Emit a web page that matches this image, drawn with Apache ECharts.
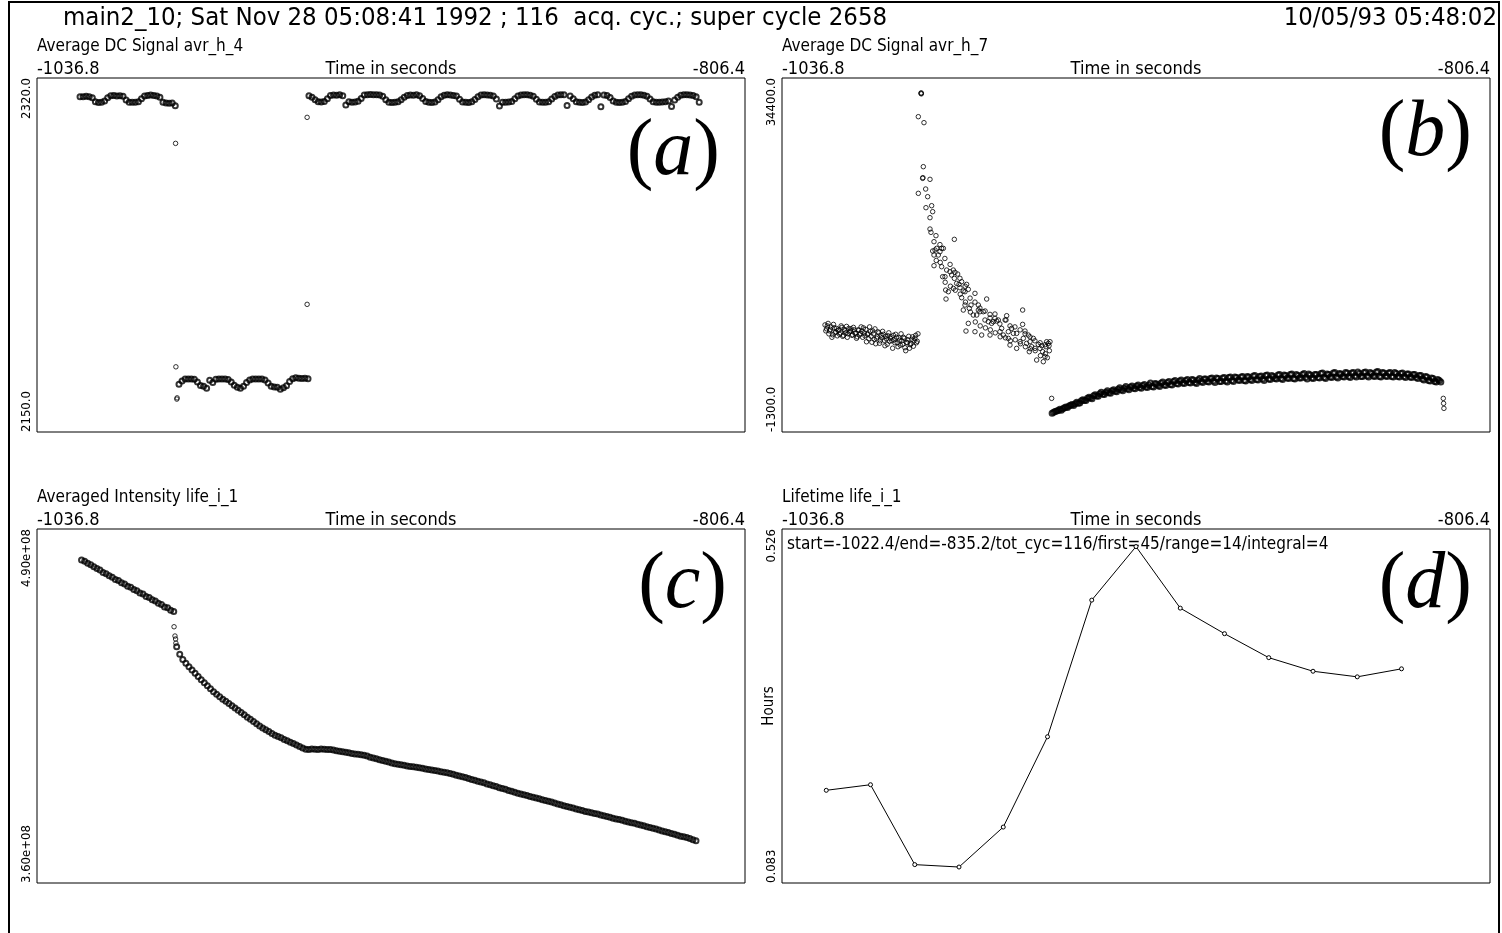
<!DOCTYPE html>
<html><head><meta charset="utf-8">
<script src="https://cdn.jsdelivr.net/npm/echarts@6/dist/echarts.min.js"></script>
<style>html,body{margin:0;padding:0;background:#fff}#c{width:1502px;height:933px}</style>
</head><body><div id="c"></div>
<script>
const FONT = "'Liberation Sans Narrow','DejaVu Sans Condensed','Liberation Sans',sans-serif";
const SERIF = "'Liberation Serif','DejaVu Serif',serif";

// ---- common time axis ----
const timeMin = -1036.8, timeMax = -806.4;
const timeTicks = [-1036.8, -806.4];

// ---- panel (a) Average DC Signal avr_h_4 ----
const aRange = [2150.0, 2320.0];
const a1Start = -1022.8, a1Step = 1.0;
const a1 = [2311.0,2311.0,2311.2,2311.0,2310.5,2308.6,2308.2,2308.3,2309.0,2310.5,2311.5,2311.6,2311.4,2311.5,2311.2,2309.4,2308.4,2308.3,2308.4,2308.6,2310.0,2311.4,2311.6,2311.8,2311.6,2311.4,2310.8,2308.3,2308.0,2307.9,2308.0,2306.7];
const a2Start = -990.6, a2Step = 1.0;
const a2 = [2172.9,2174.5,2175.4,2175.5,2175.4,2175.3,2174.0,2172.3,2172.0,2171.0,2174.9,2173.8,2175.3,2175.5,2175.4,2175.5,2175.2,2174.0,2172.4,2171.5,2171.0,2172.0,2173.8,2175.0,2175.4,2175.5,2175.4,2175.5,2175.0,2173.5,2172.0,2171.6,2171.5,2170.5,2171.3,2172.2,2174.2,2175.6,2176.0,2175.8,2175.7,2175.8,2175.6];
const a3Start = -948.3, a3Step = 1.0;
const a3 = [2311.5,2310.8,2309.5,2308.6,2308.5,2308.7,2310.0,2311.6,2311.8,2311.7,2311.9,2311.5,2307.0,2308.6,2308.4,2308.5,2308.8,2310.2,2311.8,2312.0,2312.1,2311.9,2312.0,2311.8,2311.2,2309.6,2308.4,2308.2,2308.3,2308.6,2309.5,2310.8,2311.6,2311.8,2311.7,2311.9,2311.5,2310.2,2308.7,2308.3,2308.2,2308.5,2309.6,2311.0,2311.7,2311.9,2311.8,2311.6,2311.3,2309.8,2308.5,2308.3,2308.2,2308.6,2309.7,2311.0,2311.8,2312.0,2311.8,2311.7,2311.3,2309.9,2306.6,2308.4,2308.3,2308.5,2308.7,2310.0,2311.3,2311.8,2312.0,2311.9,2311.7,2311.2,2309.8,2308.5,2308.3,2308.4,2308.6,2309.9,2311.1,2311.8,2312.0,2311.9,2306.8,2311.4,2310.0,2308.6,2308.3,2308.2,2308.5,2309.5,2310.9,2311.7,2311.9,2306.2,2311.8,2311.6,2310.6,2309.0,2308.4,2308.2,2308.3,2308.7,2310.0,2311.2,2311.8,2312.0,2311.9,2311.7,2311.2,2309.9,2308.6,2308.4,2308.3,2308.5,2308.6,2308.9,2306.3,2309.4,2310.8,2311.7,2311.9,2312.0,2311.8,2311.6,2311.0,2308.4];
const aOutliers = [[-991.7,2288.6],[-991.6,2181.3],[-991.3,2165.8],[-991.2,2166.4],[-948.9,2211.3],[-948.9,2301.1]];

// ---- panel (b) Average DC Signal avr_h_7 ----
const bRange = [-1300.0, 34400.0];
const b1Start = -1022.8, b1Step = 0.5;
const b1 = [9500,9100,9650,8900,9300,8500,9200,8800,8400,9000,8700,9250,8450,8900,9350,8600,8800,9100,8500,9000,8700,8300,8950,8650,8850,9200,8400,7800,8600,9300,8350,8900,8050,7600,8300,8700,7900,8200,8550,7400,8100,8400,7850,8300,7150,8000,8550,7700,8200,7450,7900,8250,7200,7750,8000,7150,7600,8300,7900,8450,7850];
const b1bStart = -1022.55, b1bStep = 0.5;
const b1b = [8900,9400,8600,9050,8250,9550,8700,9150,8950,8550,9400,8350,9050,8700,8250,9150,8900,8450,9250,8650,8150,9000,8500,9300,8250,8700,9050,8550,8100,8850,7750,8600,9100,8150,8800,7650,8450,8850,7950,8350,7550,8700,8150,7900,8450,7700,8250,7300,7950,8600,7550,8150,6900,7700,8350,7500,8050,7350,8150,7700,8600];
const bPeak = [[-991.57,32853],[-991.50,32900],[-991.45,32800],[-992.44,30500],[-990.60,29895],[-992.44,22768],[-990.81,25457],[-991.03,24280],[-990.95,24350],[-988.64,24180],[-990.05,23204],[-989.40,22431],[-989.95,21322],[-988.10,21523],[-987.77,20918],[-988.64,20313],[-988.64,19170],[-988.32,18834],[-987.34,17893],[-987.77,16951],[-987.34,16548],[-986.47,17220],[-984.85,17220],[-985.39,16883],[-987.34,15472],[-984.85,15371],[-984.52,14362],[-983.76,14362],[-980.72,18128],[-981.05,15034],[-979.64,14631],[-980.72,14194],[-983.54,13017],[-982.67,12849],[-983.43,12110],[-978.88,13253],[-977.80,12917],[-976.71,13589],[-976.17,13085],[-978.34,12244],[-977.25,11505],[-977.80,11000],[-975.84,11169],[-974.00,12681],[-972.91,11505],[-970.20,12110],[-972.37,10832],[-976.93,8882],[-976.17,9656],[-974.00,8815],[-971.83,8479],[-973.45,10496],[-969.11,10563],[-968.03,9824],[-969.11,8479],[-966.95,9891],[-963.69,10429],[-963.91,9992],[-958.49,10999],[-965.86,8815],[-961.52,8647],[-963.15,8143],[-962.61,7470],[-960.44,7134],[-958.49,9555],[-957.72,8882],[-956.64,8479],[-956.10,7806],[-955.01,8143],[-956.32,6798],[-953.93,5958],[-951.76,5789],[-951.22,6294],[-950.46,6193],[-952.85,7134],[-950.67,7806],[-949.59,7806],[-952.30,7403],[-987.01,17052],[-985.93,16548],[-984.30,17220],[-983.22,15034],[-982.13,14866],[-981.59,14531],[-981.05,13186],[-979.96,13690],[-979.20,13589],[-978.34,13858],[-977.25,12849],[-975.30,11505],[-974.54,10496],[-972.91,11000],[-971.29,10832],[-970.75,9992],[-969.66,9824],[-968.58,9656],[-967.49,10160],[-966.41,9992],[-965.32,9151],[-964.78,8479],[-963.15,8815],[-962.07,9151],[-960.44,8647],[-959.35,7806],[-958.27,8143],[-957.18,7638],[-955.56,7302],[-954.47,7134],[-953.39,7537],[-951.98,6798],[-950.89,7302],[-950.13,7638],[-949.05,2091],
  [-986.7,18500],[-986.6,16000],[-985.4,17600],[-985.3,15800],[-983.8,16200],[-983.7,13800],[-982.1,15600],[-982.0,13400],[-980.5,14800],[-980.4,13000],[-978.9,14200],[-978.8,12600],[-977.2,13400],[-977.1,11800],[-975.6,12200],[-975.5,10800],[-974.0,11800],[-973.9,9800],[-972.4,11200],[-972.3,9400],[-970.7,10900],[-970.6,9200],[-969.1,10200],[-969.0,9000],[-967.5,10600],[-967.4,8700],[-965.9,9600],[-965.8,8300],[-964.2,10000],[-964.1,8200],[-962.6,9400],[-962.5,7900],[-961.0,9300],[-960.9,8000],[-959.3,9000],[-959.2,7600],[-957.7,8600],[-957.6,7300],[-956.1,8300],[-956.0,7100],[-954.5,7900],[-954.4,6900],[-952.8,7700],[-952.7,6400],[-951.2,7500],[-951.1,6600],[-949.9,7400],[-949.8,6900]];
const b3Start = -948.9, b3Step = 1.0;
const b3 = [580,760,880,900,1150,1180,1400,1380,1700,1620,1950,1880,2200,2050,2450,2300,2700,2480,2850,2600,2950,2750,3150,2850,3300,2950,3350,3050,3450,3100,3500,3200,3650,3250,3550,3300,3750,3400,3800,3450,3900,3550,3950,3600,4000,3650,3950,3600,4100,3700,4050,3750,4150,3700,4100,3800,4200,3750,4250,3800,4200,3900,4300,3850,4250,3900,4400,3950,4350,3900,4450,4000,4300,4050,4500,4000,4400,4100,4550,4050,4400,4150,4600,4050,4450,4100,4500,4150,4650,4100,4500,4200,4700,4150,4550,4250,4650,4200,4700,4250,4600,4300,4750,4250,4600,4300,4800,4250,4650,4300,4700,4250,4600,4250,4650,4200,4550,4200,4500,4100,4400,3950,4250,3850,4100,3750,3900];
const b3bStart = -948.4, b3bStep = 1.0;
const b3b = [690,820,1000,1050,1220,1330,1470,1560,1600,1850,1870,2100,2120,2350,2330,2550,2500,2700,2650,2850,2800,3000,2950,3100,3050,3250,3100,3350,3200,3400,3250,3450,3300,3600,3400,3650,3450,3700,3500,3800,3600,3850,3650,3900,3700,4000,3700,3950,3800,4050,3800,4100,3850,4150,3800,4150,3850,4200,3900,4250,3950,4250,3900,4300,4000,4350,4000,4300,4050,4400,4050,4400,4100,4450,4100,4450,4150,4500,4100,4500,4150,4500,4200,4550,4150,4500,4200,4600,4200,4550,4250,4650,4250,4600,4300,4700,4300,4650,4350,4750,4300,4700,4350,4700,4350,4750,4300,4700,4350,4650,4300,4700,4300,4600,4300,4550,4250,4500,4200,4400,4050,4300,3900,4150,3800,4000,3750];
const bTail = [[-821.6,2092],[-821.5,1588],[-821.4,1084]];

// ---- panel (c) Averaged Intensity life_i_1 (units of 1e8) ----
const cRange = [3.60, 4.90];
const c1Start = -1022.3, c1Step = 1.0;
const c1 = [4.786,4.782,4.774,4.769,4.761,4.755,4.749,4.740,4.736,4.728,4.723,4.715,4.711,4.703,4.698,4.690,4.686,4.678,4.673,4.665,4.661,4.652,4.648,4.640,4.636,4.627,4.623,4.614,4.611,4.602,4.597];
const cOutliers = [[-992.2,4.541],[-991.9,4.507],[-991.7,4.496],[-991.6,4.481]];
const c2Start = -991.35, c2Step = 1.0;
const c2 = [4.468,4.440,4.421,4.407,4.394,4.382,4.370,4.358,4.346,4.335,4.324,4.313,4.302,4.293,4.284,4.275,4.267,4.259,4.251,4.243,4.234,4.226,4.218,4.209,4.201,4.193,4.185,4.177,4.169,4.163,4.156,4.149,4.143,4.138,4.133,4.127,4.122,4.117,4.112,4.107,4.101,4.096,4.091,4.090,4.092,4.091,4.090,4.092,4.091,4.090,4.090,4.088,4.086,4.084,4.082,4.080,4.078,4.076,4.074,4.073,4.071,4.069,4.066,4.062,4.059,4.056,4.053,4.050,4.047,4.044,4.041,4.038,4.036,4.034,4.032,4.030,4.028,4.027,4.025,4.023,4.021,4.019,4.017,4.015,4.013,4.011,4.009,4.007,4.005,4.002,3.999,3.996,3.993,3.990,3.987,3.984,3.980,3.977,3.974,3.971,3.968,3.964,3.961,3.957,3.954,3.950,3.947,3.944,3.940,3.937,3.933,3.930,3.927,3.924,3.921,3.918,3.915,3.912,3.909,3.906,3.903,3.900,3.897,3.894,3.890,3.887,3.884,3.881,3.878,3.875,3.872,3.869,3.866,3.863,3.861,3.858,3.855,3.853,3.850,3.847,3.844,3.841,3.838,3.835,3.833,3.830,3.827,3.824,3.821,3.819,3.816,3.813,3.810,3.807,3.804,3.801,3.798,3.795,3.791,3.788,3.785,3.782,3.779,3.775,3.772,3.770,3.767,3.763,3.759,3.755];

// ---- panel (d) Lifetime life_i_1 ----
const dRange = [0.083, 0.526];
const dTimes = [-1022.4,-1008.0,-993.6,-979.2,-964.8,-950.4,-936.0,-921.6,-907.2,-892.8,-878.4,-864.0,-849.6,-835.2];
const dHours = [0.199,0.206,0.106,0.103,0.153,0.266,0.437,0.504,0.427,0.395,0.365,0.348,0.341,0.351];

// ---- texts ----
const mainTitle = 'main2_10; Sat Nov 28 05:08:41 1992 ; 116  acq. cyc.; super cycle 2658';
const dateText = '10/05/93 05:48:02';
const panelTitles = ['Average DC Signal avr_h_4','Average DC Signal avr_h_7','Averaged Intensity life_i_1','Lifetime life_i_1'];
const annotation = 'start=-1022.4/end=-835.2/tot_cyc=116/first=45/range=14/integral=4';

function seg(start, step, vals){ return vals.map((v,i)=>[start+i*step, v]); }

const grids = [
  {left:37, top:78, width:708, height:354},
  {left:782, top:78, width:708, height:354},
  {left:37, top:529, width:708, height:354},
  {left:782, top:529, width:708, height:354}
].map(g=>Object.assign(g,{show:true, borderColor:'#000', borderWidth:1, backgroundColor:'rgba(0,0,0,0)', outerBoundsMode:'none'}));

function xAx(i){
  return {gridIndex:i, type:'value', position:'top', min:timeMin, max:timeMax,
    axisLine:{show:false}, axisTick:{show:false}, splitLine:{show:false},
    axisLabel:{customValues:timeTicks, formatter:v=>v.toFixed(1), alignMinLabel:'left', alignMaxLabel:'right',
      margin:0, fontSize:18, fontFamily:FONT, color:'#000'},
    name:'Time in seconds', nameLocation:'middle', nameGap:0, nameMoveOverlap:false,
    nameTextStyle:{fontSize:18, fontFamily:FONT, color:'#000', verticalAlign:'bottom'}};
}
function yAx(i, range, fmt, name){
  const o = {gridIndex:i, type:'value', min:range[0], max:range[1],
    axisLine:{show:false}, axisTick:{show:false}, splitLine:{show:false},
    axisLabel:{customValues:range, formatter:fmt, rotate:90, alignMinLabel:'left', alignMaxLabel:'right',
      margin:4, fontSize:13, fontFamily:FONT, color:'#000'}};
  if(name){ Object.assign(o,{name:name, nameLocation:'middle', nameRotate:90, nameGap:5, nameMoveOverlap:false,
    nameTextStyle:{fontSize:15, fontFamily:FONT, color:'#000'}}); }
  return o;
}
const dotStyle = {color:'rgba(0,0,0,0)', borderColor:'#000', borderWidth:1};
const bandStyle = {color:'rgba(0,0,0,0)', borderColor:'#000', borderWidth:2};
function sc(i, data){ return {type:'scatter', xAxisIndex:i, yAxisIndex:i, data:data, symbol:'circle', symbolSize:4.5, itemStyle:dotStyle, silent:true}; }
function band(i, data){ return {type:'scatter', xAxisIndex:i, yAxisIndex:i, data:data, symbol:'circle', symbolSize:5, itemStyle:bandStyle, silent:true}; }

function panelLabel(letter, x, y){
  return {type:'text', x:x, y:y, silent:true, style:{text:'{p|(}{l|'+letter+'}{p|)}', align:'right', verticalAlign:'middle', fill:'#000',
    rich:{p:{fontFamily:SERIF, fontSize:80, fill:'#000'}, l:{fontFamily:SERIF, fontSize:80, fontStyle:'italic', fill:'#000'}}}};
}
function txt(x, y, text, size, align){
  return {type:'text', x:x, y:y, silent:true, style:{text:text, fontFamily:FONT, fontSize:size, fill:'#000', align:align||'left', verticalAlign:'middle'}};
}

const option = {
  animation:false,
  backgroundColor:'#fff',
  grid: grids,
  xAxis:[xAx(0),xAx(1),xAx(2),xAx(3)],
  yAxis:[
    yAx(0, aRange, v=>v.toFixed(1)),
    yAx(1, bRange, v=>v.toFixed(1)),
    yAx(2, cRange, v=>v.toFixed(2)+'e+08'),
    yAx(3, dRange, v=>v.toFixed(3), 'Hours')
  ],
  series:[
    band(0, seg(a1Start,a1Step,a1)), band(0, seg(a2Start,a2Step,a2)), band(0, seg(a3Start,a3Step,a3)), sc(0, aOutliers),
    sc(1, seg(b1Start,b1Step,b1)), sc(1, seg(b1bStart,b1bStep,b1b)), sc(1, bPeak), band(1, seg(b3Start,b3Step,b3)), band(1, seg(b3bStart,b3bStep,b3b)), sc(1, bTail),
    band(2, seg(c1Start,c1Step,c1)), sc(2, cOutliers), band(2, seg(c2Start,c2Step,c2)),
    {type:'line', xAxisIndex:3, yAxisIndex:3, data:dTimes.map((t,i)=>[t,dHours[i]]), symbol:'circle', symbolSize:4, showAllSymbol:true,
      lineStyle:{color:'#000', width:1}, itemStyle:{color:'#fff', borderColor:'#000', borderWidth:1}, silent:true}
  ],
  graphic:[
    {type:'rect', silent:true, shape:{x:9, y:2, width:1490, height:960}, style:{fill:'none', stroke:'#000', lineWidth:2}},
    txt(63, 18, mainTitle, 25.5),
    txt(1497, 18, dateText, 25.5, 'right'),
    txt(37, 47, panelTitles[0], 17),
    txt(782, 47, panelTitles[1], 17),
    txt(37, 498, panelTitles[2], 17),
    txt(782, 498, panelTitles[3], 17),
    txt(787, 545, annotation, 17),
    panelLabel('a', 720, 153),
    panelLabel('b', 1472, 134),
    panelLabel('c', 727, 586),
    panelLabel('d', 1472, 586)
  ]
};
const chart = echarts.init(document.getElementById('c'));
chart.setOption(option);
</script>
</body></html>
